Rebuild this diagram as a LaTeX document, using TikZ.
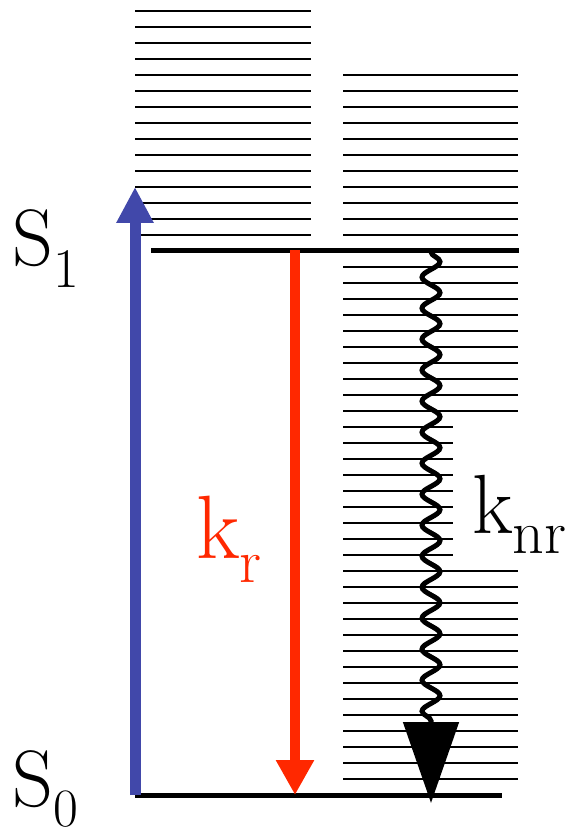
\documentclass[tikz,border=0pt]{standalone}
\usepackage{fontspec}
\usepackage{xcolor}
\usetikzlibrary{arrows.meta,decorations.pathmorphing}
\definecolor{lvblue}{RGB}{65,72,170}
\definecolor{lvred}{RGB}{255,40,0}

\begin{document}
\begin{tikzpicture}[x=1pt, y=-1pt,
  level/.style={line width=1.6pt, black},
  state/.style={line width=5pt, black},
  lbl/.style={inner sep=0pt, anchor=base west},
  absarr/.style={line width=11pt, lvblue, -{Triangle[length=36pt,width=35pt]}},
  radarr/.style={line width=10pt, lvred, -{Triangle[length=35pt,width=36pt]}},
  nrarr/.style={line width=5pt, black, decorate,
                decoration={snake, amplitude=9pt, segment length=31pt, post length=82pt},
                -{Triangle[length=81pt,width=55pt]}}
]
\useasboundingbox (0,0) rectangle (579,834);

% vibrational levels
\foreach \y in {11,27,...,235}
  \draw[level] (135,\y) -- (311,\y);
\foreach \y in {75,91,...,235}
  \draw[level] (343,\y) -- (518,\y);
\foreach \y in {267,283,...,779} {
  \ifnum\y>420 \ifnum\y<560
    \draw[level] (343,\y) -- (453,\y);
  \else
    \draw[level] (343,\y) -- (518,\y);
  \fi \else
    \draw[level] (343,\y) -- (518,\y);
  \fi
}

% electronic states
\coordinate (s1l) at (151,250);
\coordinate (s1r) at (519,250);
\coordinate (s0l) at (135,795);
\coordinate (s0r) at (502,795);
\draw[state] (s1l) -- (s1r);
\draw[state] (s0l) -- (s0r);

% transitions
\coordinate (absbot) at (135,795);
\coordinate (abstop) at (135,187);
\coordinate (radtop) at (295,250);
\coordinate (radbot) at (295,795);
\coordinate (nrtop) at (431,252);
\coordinate (nrbot) at (431,803);
\draw[absarr] (absbot) -- (abstop);
\draw[radarr] (radtop) -- (radbot);
\draw[nrarr] (nrtop) -- (nrbot);

% labels
\node[lbl] (S1) at (12,265)
  {\fontsize{80}{90}\selectfont S\raisebox{-22pt}{\fontsize{56}{60}\selectfont 1}};
\node[lbl] (S0) at (12,806)
  {\fontsize{80}{90}\selectfont S\raisebox{-20pt}{\fontsize{54}{58}\selectfont 0}};
\node[lbl, text=lvred] (kr) at (196,558)
  {\fontsize{90}{100}\selectfont k\raisebox{-24pt}{\fontsize{62}{70}\selectfont r}};
\node[lbl] (knr) at (472,533)
  {\fontsize{84}{100}\selectfont k\raisebox{-20pt}{\fontsize{62}{70}\selectfont nr}};
\end{tikzpicture}
\end{document}
